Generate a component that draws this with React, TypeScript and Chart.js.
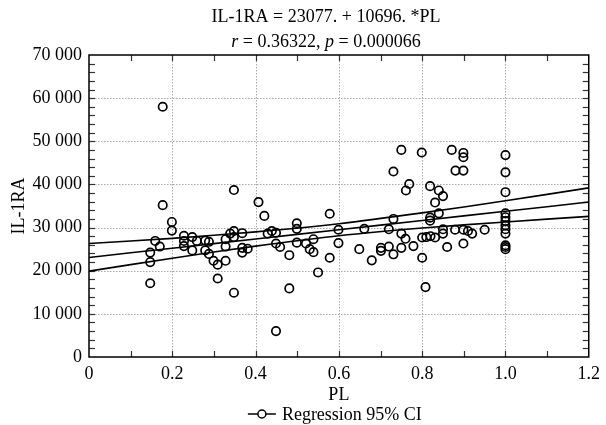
import React, { useEffect, useRef } from 'react';
import { Chart, registerables } from 'chart.js';

Chart.register(...registerables);

const FONT = '"Liberation Serif", "Times New Roman", serif';

// PL (x) and IL-1RA (y) observations
const plValues = [
  0.147, 0.147, 0.147, 0.159, 0.170, 0.177, 0.177, 0.199, 0.199, 0.228,
  0.228, 0.228, 0.248, 0.248, 0.259, 0.279, 0.279, 0.288, 0.288, 0.299,
  0.309, 0.309, 0.328, 0.328, 0.328, 0.339, 0.348, 0.348, 0.348, 0.348,
  0.368, 0.368, 0.368, 0.381, 0.407, 0.421, 0.429, 0.439, 0.449, 0.449,
  0.459, 0.449, 0.481, 0.481, 0.499, 0.499, 0.499, 0.521, 0.530, 0.539,
  0.539, 0.550, 0.578, 0.578, 0.599, 0.599, 0.649, 0.661, 0.679, 0.701,
  0.701, 0.720, 0.720, 0.731, 0.731, 0.731, 0.750, 0.760, 0.750, 0.750,
  0.769, 0.761, 0.779, 0.800, 0.810, 0.800, 0.808, 0.799, 0.819, 0.840,
  0.850, 0.831, 0.840, 0.819, 0.819, 0.820, 0.831, 0.850, 0.850, 0.860,
  0.871, 0.899, 0.899, 0.880, 0.899, 0.879, 0.899, 0.899, 0.910, 0.920,
  0.950, 1.0, 1.0, 1.0, 1.0, 1.0, 1.0, 1.0, 1.0, 1.0,
  1.0, 1.0, 1.0,
];
const il1raValues = [
  17100, 22000, 24200, 26900, 25600, 58000, 35200, 31300, 29300, 28100,
  26900, 25700, 27800, 24700, 26900, 27000, 24700, 26700, 23900, 22300,
  21400, 18200, 27300, 25600, 22300, 28600, 29200, 27800, 38700, 14900,
  28700, 25300, 24200, 25100, 35900, 32700, 28600, 29200, 28800, 26300,
  25500, 6000, 23600, 15900, 31000, 29700, 26500, 26300, 25000, 24300,
  27300, 19600, 33200, 23000, 29500, 26400, 25000, 29700, 22400, 25300,
  24600, 29600, 25600, 32000, 23800, 43000, 28600, 27400, 25300, 48000,
  40100, 38600, 25700, 27700, 27800, 23000, 16200, 47400, 39600, 38600,
  37300, 35800, 33300, 32300, 31600, 28000, 27700, 29600, 28600, 25500,
  48000, 47300, 46300, 43200, 43200, 29500, 29500, 26300, 29200, 28600,
  29500, 46800, 42800, 38200, 33300, 32400, 31500, 30500, 29600, 28600,
  25900, 25500, 25000,
];

// Regression line and its 95% confidence band
const lineX = [0, 0.2, 0.4, 0.6, 0.8, 1.0, 1.2];
const regressionY = [23077, 25216, 27355, 29495, 31634, 33773, 35912];
const ciUpperY = [26300, 27500, 29000, 30900, 33400, 36200, 39200];
const ciLowerY = [19900, 22900, 25700, 28100, 29900, 31300, 32600];

// Axis settings
const xMin = 0, xMax = 1.2, xStep = 0.2, xMinorStep = 0.1;
const yMin = 0, yMax = 70000, yStep = 10000, yMinorStep = 2000;

const titleLine1 = 'IL-1RA = 23077. + 10696. *PL';
const titleLine2Parts: [string, boolean][] = [
  ['r', true], [' = 0.36322, ', false], ['p', true], [' = 0.000066', false],
];
const xTitle = 'PL';
const yTitle = 'IL-1RA';
const legendLabel = 'Regression 95% CI';

const fmtY = (v: number) => (v === 0 ? '0' : String(v).replace(/\B(?=(\d{3})+(?!\d))/g, ' '));
const fmtX = (v: number) => (Math.abs(v) < 1e-9 ? '0' : v.toFixed(1));

const framePlugin = {
  id: 'frameAndText',
  beforeDatasetsDraw(chart: any) {
    const { ctx, chartArea } = chart;
    const { left, right, top, bottom } = chartArea;
    const xs = chart.scales.x;
    const ys = chart.scales.y;
    ctx.save();
    // dotted grid
    ctx.strokeStyle = '#a8a8a8';
    ctx.lineWidth = 1;
    ctx.setLineDash([1.5, 1.5]);
    for (let v = xMin + xStep; v < xMax - 1e-9; v += xStep) {
      const px = Math.round(xs.getPixelForValue(v)) + 0.5;
      ctx.beginPath(); ctx.moveTo(px, top); ctx.lineTo(px, bottom); ctx.stroke();
    }
    for (let v = yMin + yStep; v < yMax - 1e-9; v += yStep) {
      const py = Math.round(ys.getPixelForValue(v)) + 0.5;
      ctx.beginPath(); ctx.moveTo(left, py); ctx.lineTo(right, py); ctx.stroke();
    }
    ctx.setLineDash([]);
    // inward ticks
    ctx.strokeStyle = '#333';
    ctx.lineWidth = 1.2;
    const tl = 6;
    for (let v = xMin + xMinorStep; v < xMax - 1e-9; v += xMinorStep) {
      const px = Math.round(xs.getPixelForValue(v)) + 0.5;
      ctx.beginPath(); ctx.moveTo(px, bottom); ctx.lineTo(px, bottom - tl); ctx.stroke();
      ctx.beginPath(); ctx.moveTo(px, top); ctx.lineTo(px, top + tl); ctx.stroke();
    }
    for (let v = yMin + yMinorStep; v < yMax - 1e-9; v += yMinorStep) {
      const py = Math.round(ys.getPixelForValue(v)) + 0.5;
      ctx.beginPath(); ctx.moveTo(left, py); ctx.lineTo(left + tl, py); ctx.stroke();
      ctx.beginPath(); ctx.moveTo(right, py); ctx.lineTo(right - tl, py); ctx.stroke();
    }
    // frame
    ctx.strokeStyle = '#000';
    ctx.lineWidth = 1.5;
    ctx.strokeRect(left, top, right - left, bottom - top);
    ctx.restore();
  },
  afterDraw(chart: any) {
    const { ctx, chartArea } = chart;
    ctx.save();
    ctx.fillStyle = '#000';
    // title
    const tcx = 326;
    ctx.font = `18px ${FONT}`;
    ctx.textAlign = 'center';
    ctx.textBaseline = 'alphabetic';
    ctx.fillText(titleLine1, tcx, 22);
    // second line with italic parts
    const widths = titleLine2Parts.map(([t, it]) => {
      ctx.font = `${it ? 'italic ' : ''}18px ${FONT}`;
      return ctx.measureText(t).width;
    });
    const total = widths.reduce((a, b) => a + b, 0);
    let x = tcx - total / 2;
    ctx.textAlign = 'left';
    titleLine2Parts.forEach(([t, it], i) => {
      ctx.font = `${it ? 'italic ' : ''}18px ${FONT}`;
      ctx.fillText(t, x, 47);
      x += widths[i];
    });
    // legend
    ctx.font = `18px ${FONT}`;
    const lw = ctx.measureText(legendLabel).width;
    const symW = 28, gap = 6;
    const cx = (chartArea.left + chartArea.right) / 2 - 4;
    const lx = cx - (symW + gap + lw) / 2;
    const ly = 414;
    ctx.strokeStyle = '#000';
    ctx.lineWidth = 1.5;
    ctx.beginPath(); ctx.moveTo(lx, ly); ctx.lineTo(lx + symW, ly); ctx.stroke();
    ctx.fillStyle = '#fff';
    ctx.beginPath(); ctx.arc(lx + symW / 2, ly, 4, 0, Math.PI * 2); ctx.fill(); ctx.stroke();
    ctx.fillStyle = '#000';
    ctx.textBaseline = 'middle';
    ctx.fillText(legendLabel, lx + symW + gap, ly + 1);
    ctx.restore();
  },
};

export default function App() {
  const ref = useRef<HTMLCanvasElement | null>(null);
  useEffect(() => {
    document.body.style.margin = '0';
    const canvas = ref.current;
    if (!canvas) return;
    const toLine = (ys: number[]) => lineX.map((x, i) => ({ x, y: ys[i] }));
    const lineDs = (label: string, ys: number[]) => ({
      type: 'line' as const,
      label,
      data: toLine(ys),
      borderColor: '#000',
      borderWidth: 1.6,
      pointRadius: 0,
      fill: false,
      tension: 0.3,
      showLine: true,
    });
    const chart = new Chart(canvas, {
      type: 'scatter',
      data: {
        datasets: [
          {
            label: 'Observations',
            data: plValues.map((x, i) => ({ x, y: il1raValues[i] })),
            borderColor: '#000',
            backgroundColor: 'rgba(0,0,0,0)',
            borderWidth: 1.7,
            pointRadius: 4.2,
            pointHoverRadius: 4.2,
          } as any,
          lineDs('Regression', regressionY) as any,
          lineDs('Upper 95% CI', ciUpperY) as any,
          lineDs('Lower 95% CI', ciLowerY) as any,
        ],
      },
      options: {
        animation: false,
        responsive: false,
        maintainAspectRatio: false,
        layout: { padding: { top: 55, right: 16, bottom: 19, left: 0 } },
        plugins: {
          legend: { display: false },
          title: { display: false },
          tooltip: { enabled: false },
        },
        scales: {
          x: {
            type: 'linear',
            min: xMin,
            max: xMax,
            grid: { display: false, drawTicks: false },
            border: { display: false },
            ticks: {
              stepSize: xStep,
              color: '#000',
              padding: 6,
              font: { family: FONT, size: 18 },
              callback: (v: any) => fmtX(Number(v)),
              maxRotation: 0,
            },
            title: {
              display: true,
              text: xTitle,
              color: '#000',
              font: { family: FONT, size: 18 },
              padding: { top: 0, bottom: 0 },
            },
            afterFit: (s: any) => { s.height = 425 - 19 - 357; },
          },
          y: {
            type: 'linear',
            min: yMin,
            max: yMax,
            grid: { display: false, drawTicks: false },
            border: { display: false },
            ticks: {
              stepSize: yStep,
              color: '#000',
              padding: 7,
              font: { family: FONT, size: 18 },
              callback: (v: any) => fmtY(Number(v)),
            },
            title: {
              display: true,
              text: yTitle,
              color: '#000',
              font: { family: FONT, size: 18 },
              padding: { top: 8, bottom: 0 },
            },
            afterFit: (s: any) => { s.width = 89; },
          },
        },
      },
      plugins: [framePlugin],
    } as any);
    return () => chart.destroy();
  }, []);
  return <canvas ref={ref} width={606} height={425} style={{ display: 'block' }} />;
}
